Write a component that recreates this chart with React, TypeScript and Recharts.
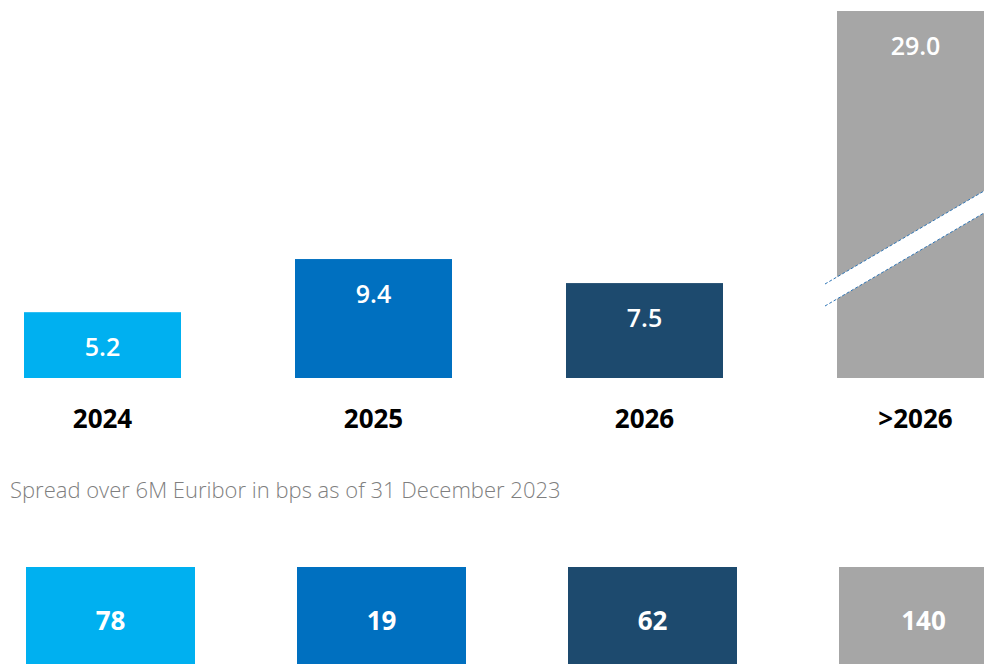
import { Bar, BarChart, Cell, LabelList, XAxis, YAxis } from "recharts";

// maturities and volumes (EUR bn)
const periods = ["2024", "2025", "2026", ">2026"];
const volumes = [5.2, 9.4, 7.5, 29.0];
// spread over 6M Euribor in bps
const spreads = [78, 19, 62, 140];
const colors = ["#00B0F0", "#0070C0", "#1D4A6E", "#A6A6A6"];
const brokenPeriod = ">2026";

const FONT = '"Open Sans", "Noto Sans", sans-serif';

const topData = periods.map((p, i) => ({ period: p, value: volumes[i] }));
const bottomData = periods.map((p, i) => ({ period: p, spread: spreads[i] }));

type ShapeProps = {
  x?: number;
  y?: number;
  width?: number;
  height?: number;
  fill?: string;
  payload?: { period: string };
};

const BarWithBreak = (props: ShapeProps) => {
  const { x = 0, y = 0, width = 0, height = 0, fill, payload } = props;
  const rect = <rect x={x} y={y} width={width} height={height} fill={fill} />;
  if (!payload || payload.period !== brokenPeriod) return rect;

  // decorative axis break across the tall bar
  const x1 = x - 12;
  const x2 = x + width;
  const slope = 0.585;
  const top1 = y + 273;
  const top2 = top1 - slope * (x2 - x1);
  const gap = 22;
  return (
    <g>
      {rect}
      <polygon
        points={`${x1},${top1} ${x2},${top2} ${x2},${top2 + gap} ${x1},${top1 + gap}`}
        fill="#fff"
      />
      <line x1={x1} y1={top1} x2={x2} y2={top2} stroke="#2E75B6" strokeWidth={1} strokeDasharray="3 2" />
      <line
        x1={x1}
        y1={top1 + gap}
        x2={x2}
        y2={top2 + gap}
        stroke="#2E75B6"
        strokeWidth={1}
        strokeDasharray="3 2"
      />
    </g>
  );
};

const renderValueLabel = (props: any) => {
  const { x, y, width, value } = props;
  return (
    <text
      x={x + width / 2}
      y={y + 34}
      fill="#fff"
      textAnchor="middle"
      dominantBaseline="central"
      fontFamily={FONT}
      fontSize={25}
      fontWeight={600}
    >
      {Number(value).toFixed(1)}
    </text>
  );
};

const renderSpreadLabel = (props: any) => {
  const { x, y, width, value } = props;
  return (
    <text
      x={x + width / 2}
      y={y + 53}
      fill="#fff"
      textAnchor="middle"
      dominantBaseline="central"
      fontFamily={FONT}
      fontSize={26}
      fontWeight={700}
    >
      {value}
    </text>
  );
};

const PeriodTick = (props: any) => {
  const { x, y, payload } = props;
  return (
    <text
      x={x}
      y={y + 32}
      fill="#000"
      textAnchor="middle"
      dominantBaseline="central"
      fontFamily={FONT}
      fontSize={26}
      fontWeight={700}
    >
      {payload.value}
    </text>
  );
};

export default function App() {
  return (
    <div
      style={{
        position: "absolute",
        left: 0,
        top: 0,
        width: 984,
        height: 664,
        overflow: "hidden",
        background: "#fff",
      }}
    >
      {/* volumes by maturity */}
      <div style={{ position: "absolute", left: -33, top: 0 }}>
        <BarChart width={1084} height={440} data={topData} margin={{ top: 11, right: 0, bottom: 0, left: 0 }}>
          <XAxis
            dataKey="period"
            axisLine={false}
            tickLine={false}
            height={62}
            interval={0}
            tick={<PeriodTick />}
          />
          <YAxis hide domain={[0, 29]} />
          <Bar dataKey="value" barSize={157} isAnimationActive={false} shape={<BarWithBreak />}>
            {topData.map((d, i) => (
              <Cell key={`vol-${d.period}`} fill={colors[i]} />
            ))}
            <LabelList dataKey="value" content={renderValueLabel} />
          </Bar>
        </BarChart>
      </div>

      <div
        style={{
          position: "absolute",
          left: 10,
          top: 474,
          fontFamily: FONT,
          fontWeight: 300,
          fontSize: 22,
          color: "#7F7F7F",
          whiteSpace: "nowrap",
        }}
      >
        Spread over 6M Euribor in bps as of 31 December 2023
      </div>

      {/* spread tiles */}
      <div style={{ position: "absolute", left: -25, top: 567 }}>
        <BarChart width={1084} height={120} data={bottomData} margin={{ top: 0, right: 0, bottom: 0, left: 0 }}>
          <XAxis dataKey="period" hide />
          <YAxis hide domain={[0, 1]} />
          <Bar dataKey={() => 1} barSize={169} isAnimationActive={false}>
            {bottomData.map((d, i) => (
              <Cell key={`spr-${d.period}`} fill={colors[i]} />
            ))}
            <LabelList dataKey="spread" content={renderSpreadLabel} />
          </Bar>
        </BarChart>
      </div>
    </div>
  );
}
